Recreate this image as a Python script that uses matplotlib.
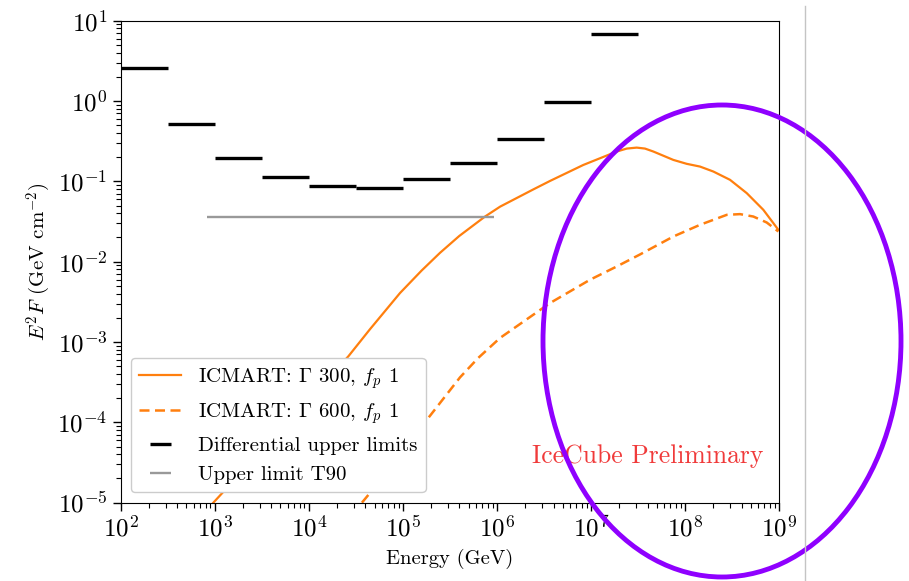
import numpy as np
import matplotlib
matplotlib.use("Agg")
import matplotlib.pyplot as plt
from matplotlib.patches import Ellipse
from matplotlib.lines import Line2D
from matplotlib.ticker import NullFormatter

plt.rcParams["font.family"] = "serif"
plt.rcParams["font.serif"] = ["cmr10", "DejaVu Serif"]
plt.rcParams["mathtext.fontset"] = "cm"
plt.rcParams["axes.unicode_minus"] = False
plt.rcParams["axes.formatter.use_mathtext"] = True

# Differential upper limits: half-decade energy bins (log10 GeV) and E^2F values
ul_bin_lo = np.array([2.0, 2.5, 3.0, 3.5, 4.0, 4.5, 5.0, 5.5, 6.0, 6.5, 7.0])
ul_bin_hi = np.array([2.5, 3.0, 3.5, 4.0, 4.5, 5.0, 5.5, 6.0, 6.5, 7.0, 7.5])
ul_values = np.array([2.58, 0.519, 0.194, 0.113, 0.088, 0.0837, 0.108, 0.170, 0.338, 0.966, 6.89])

# Time-integrated (T90) upper limit
t90_lo, t90_hi = 2.92, 5.97
t90_value = 0.0365

# ICMART model, Gamma 300 (log10 E, log10 E^2F)
g300_logE = np.array([2.985, 4.420, 4.651, 4.970, 5.200, 5.395, 5.600, 5.874, 6.034, 6.388,
                      6.565, 6.919, 7.274, 7.381, 7.487, 7.575, 7.664, 7.876, 8.019, 8.160,
                      8.302, 8.479, 8.657, 8.833, 8.993])
g300_logF = np.array([-5.000, -3.179, -2.840, -2.390, -2.110, -1.890, -1.680, -1.438, -1.315,
                      -1.100, -0.995, -0.796, -0.629, -0.592, -0.580, -0.592, -0.629, -0.733,
                      -0.782, -0.816, -0.878, -0.981, -1.147, -1.354, -1.603])

# ICMART model, Gamma 600
g600_logE = np.array([4.565, 4.651, 5.271, 5.608, 5.800, 6.033, 6.565, 6.990, 7.274, 7.522,
                      7.876, 8.160, 8.444, 8.585, 8.727, 8.869, 8.993])
g600_logF = np.array([-5.000, -4.878, -3.945, -3.440, -3.200, -2.950, -2.515, -2.225, -2.060,
                      -1.910, -1.687, -1.541, -1.417, -1.408, -1.438, -1.512, -1.624])

fig = plt.figure(figsize=(9.09, 5.81), dpi=100)
ax = fig.add_axes([0.1328, 0.1348, 0.7242, 0.8296])

ax.plot(10**g300_logE, 10**g300_logF, color="#ff7f0e", lw=1.6,
        label=r"ICMART: $\Gamma$ 300, $f_p$ 1")
ax.plot(10**g600_logE, 10**g600_logF, color="#ff7f0e", lw=1.8, ls=(0, (4, 2.2)),
        label=r"ICMART: $\Gamma$ 600, $f_p$ 1")

lo = 10**ul_bin_lo
hi = 10**ul_bin_hi
ctr = np.sqrt(lo * hi)
ax.errorbar(ctr, ul_values, xerr=[ctr - lo, hi - ctr], fmt="none", ecolor="black",
            elinewidth=2.4, label="Differential upper limits")

t_lo, t_hi = 10**t90_lo, 10**t90_hi
t_c = np.sqrt(t_lo * t_hi)
ax.errorbar([t_c], [t90_value], xerr=[[t_c - t_lo], [t_hi - t_c]], fmt="none",
            ecolor="#999999", elinewidth=1.7, label="Upper limit T90")

ax.set_xscale("log")
ax.set_yscale("log")
ax.set_xlim(1e2, 1e9)
ax.set_ylim(1e-5, 1e1)
ax.xaxis.set_minor_formatter(NullFormatter())
ax.yaxis.set_minor_formatter(NullFormatter())

ax.tick_params(which="major", length=6, width=1, labelsize=18)
ax.tick_params(which="minor", length=3.5, width=0.8)
ax.tick_params(top=False, right=False, which="both")

ax.set_xlabel("Energy (GeV)", fontsize=14.8, labelpad=5)
ax.set_ylabel(r"$E^2F$ (GeV cm$^{-2}$)", fontsize=15, labelpad=3)

ax.text(0.976, 0.097, "IceCube Preliminary", transform=ax.transAxes, ha="right",
        va="center", color="#f03a3a", fontsize=18.5)

leg = ax.legend(loc="lower left", fontsize=15, frameon=True, fancybox=True,
                edgecolor="#cccccc", framealpha=1.0, borderaxespad=0.5)

# Annotation ellipse and divider line drawn on the figure canvas
fig.add_artist(Ellipse((722 / 909, 1 - 341 / 581), 358 / 909, 472 / 581,
                       transform=fig.transFigure, fill=False, edgecolor="#8f00ff",
                       lw=3.5, clip_on=False))
fig.add_artist(Line2D([805 / 909, 805 / 909], [0, 1 - 6 / 581], transform=fig.transFigure,
                      color="#c4c4c4", lw=1))

fig.savefig("out.png", dpi=100)
